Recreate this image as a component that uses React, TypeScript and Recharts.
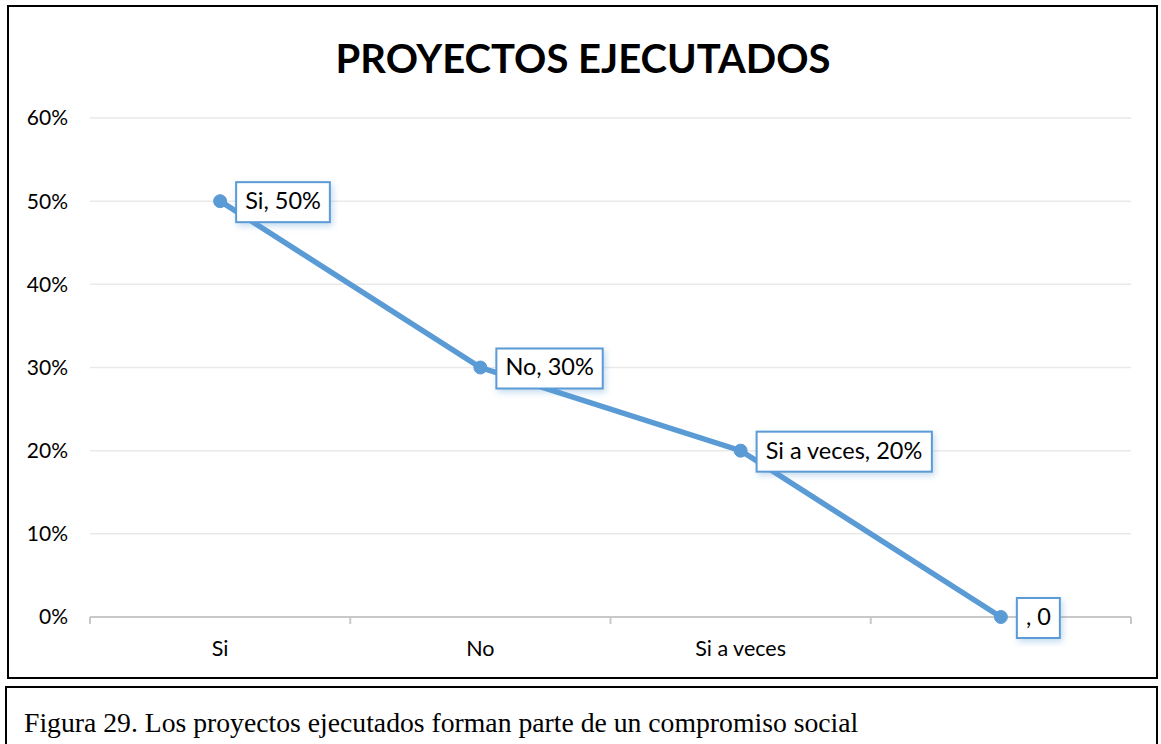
import { LineChart, Line, XAxis, YAxis, CartesianGrid, LabelList } from 'recharts';

const categories = ['Si', 'No', 'Si a veces', ''];
const values = [0.5, 0.3, 0.2, 0];
const yTicks = [0, 0.1, 0.2, 0.3, 0.4, 0.5, 0.6];

const data = categories.map((name, i) => ({ name, value: values[i] }));

const BLUE = '#5B9BD5';
const FONT = 'Lato, "Open Sans", sans-serif';
const LABEL_FONT_SIZE = 23.5;

let ctx: CanvasRenderingContext2D | null = null;
const measure = (text: string, font: string) => {
  if (!ctx) ctx = document.createElement('canvas').getContext('2d');
  if (!ctx) return text.length * 11;
  ctx.font = font;
  return ctx.measureText(text).width;
};

const labelText = (index: number) => {
  const d = data[index];
  if (!d) return '';
  return d.name === '' ? `, ${d.value}` : `${d.name}, ${Math.round(d.value * 100)}%`;
};

const PointLabel = (props: any) => {
  const { x, y, index } = props;
  const text = labelText(index);
  const w = measure(text, `${LABEL_FONT_SIZE}px ${FONT}`) + 18;
  const h = 40;
  const bx = x + 16;
  const by = y - h / 2 + 1;
  return (
    <g>
      <rect x={bx} y={by} width={w} height={h} fill="#fff" stroke={BLUE} strokeWidth={2} filter="url(#lblShadow)" />
      <text x={bx + 9} y={by + h / 2 + 1} dominantBaseline="middle" fontFamily={FONT} fontSize={LABEL_FONT_SIZE} fill="#000">
        {text}
      </text>
    </g>
  );
};

const CategoryTick = (props: any) => {
  const { x, y, payload, index, width, visibleTicksCount } = props;
  const half = payload?.offset || width / visibleTicksCount / 2;
  const last = index === visibleTicksCount - 1;
  return (
    <g>
      <line x1={x - half} x2={x - half} y1={y} y2={y + 7} stroke="#c8c8c8" strokeWidth={2} />
      {last && <line x1={x + half} x2={x + half} y1={y} y2={y + 7} stroke="#c8c8c8" strokeWidth={2} />}
      <text x={x} y={y + 39} textAnchor="middle" fontFamily={FONT} fontSize={21.5} fill="#000">
        {payload.value}
      </text>
    </g>
  );
};

export default function App() {
  return (
    <div style={{ position: 'absolute', left: 0, top: 0, width: 1161, height: 744, background: '#fff', overflow: 'hidden' }}>
      <div style={{ position: 'absolute', left: 7, top: 5, width: 1147, height: 670, border: '2px solid #000' }} />
      <div
        style={{
          position: 'absolute', left: 0, top: 30, width: 1166, textAlign: 'center',
          fontFamily: FONT, fontWeight: 700, fontSize: 40, color: '#000', lineHeight: '56px',
        }}
      >
        PROYECTOS EJECUTADOS
      </div>
      <div style={{ position: 'absolute', left: 0, top: 0 }}>
        <LineChart width={1161} height={680} data={data} margin={{ top: 118, right: 30, left: 30, bottom: 33 }}>
          <defs>
            <filter id="lblShadow" x="-20%" y="-30%" width="150%" height="180%">
              <feDropShadow dx="2" dy="3" stdDeviation="3" floodColor="#5B9BD5" floodOpacity="0.35" />
            </filter>
          </defs>
          <CartesianGrid vertical={false} stroke="#e9e9e9" strokeWidth={1.5} />
          <XAxis
            dataKey="name"
            scale="band"
            axisLine={{ stroke: '#c8c8c8', strokeWidth: 2 }}
            tickLine={false}
            tickSize={0}
            tickMargin={0}
            height={30}
            interval={0}
            tick={<CategoryTick />}
          />
          <YAxis
            domain={[0, 0.6]}
            ticks={yTicks}
            width={60}
            axisLine={false}
            tickLine={false}
            tickSize={0}
            tickMargin={22}
            tickFormatter={(v: number) => `${Math.round(v * 100)}%`}
            tick={{ fontFamily: FONT, fontSize: 21, fill: '#000' }}
          />
          <Line
            type="linear"
            dataKey="value"
            stroke={BLUE}
            strokeWidth={5.5}
            dot={{ r: 6.5, fill: BLUE, stroke: BLUE, strokeWidth: 1 }}
            isAnimationActive={false}
          >
            <LabelList dataKey="value" content={<PointLabel />} />
          </Line>
        </LineChart>
      </div>
      <div style={{ position: 'absolute', left: 5, top: 686, width: 1149, height: 80, border: '2px solid #000' }} />
      <div
        style={{
          position: 'absolute', left: 24, top: 703, fontFamily: '"Liberation Serif", "Times New Roman", serif',
          fontSize: 27.7, color: '#000', lineHeight: '40px', whiteSpace: 'nowrap',
        }}
      >
        Figura 29. Los proyectos ejecutados forman parte de un compromiso social
      </div>
    </div>
  );
}
